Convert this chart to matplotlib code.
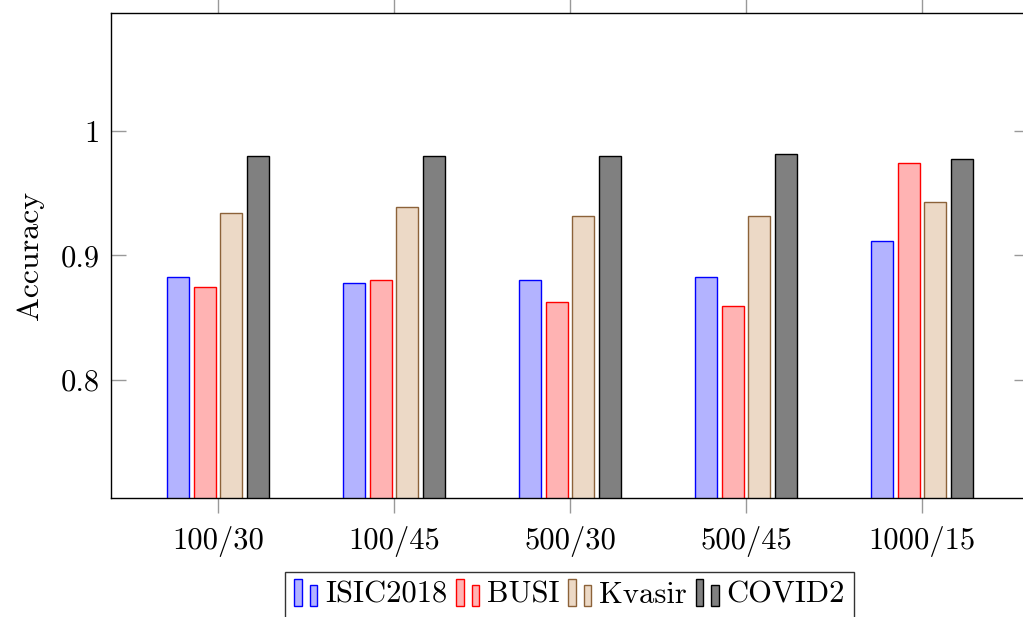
import numpy as np
import matplotlib
matplotlib.use("Agg")
import matplotlib.pyplot as plt
from matplotlib.patches import Rectangle
from matplotlib.legend_handler import HandlerBase

plt.rcParams['font.family'] = 'serif'
plt.rcParams['font.serif'] = ['cmr10']
plt.rcParams['mathtext.fontset'] = 'cm'
plt.rcParams['axes.formatter.use_mathtext'] = True

# data
groups = ["100/30", "100/45", "500/30", "500/45", "1000/15"]
datasets = ["ISIC2018", "BUSI", "Kvasir", "COVID2"]
isic = [0.883, 0.878, 0.880, 0.883, 0.912]
busi = [0.875, 0.880, 0.863, 0.859, 0.974]
kvasir = [0.934, 0.939, 0.932, 0.932, 0.943]
covid = [0.980, 0.980, 0.980, 0.982, 0.978]
ytick_vals = [0.8, 0.9, 1.0]
ytick_labels = ["0.8", "0.9", "1"]

values = [isic, busi, kvasir, covid]
fills = ["#b3b3ff", "#ffb3b3", "#ecd9c6", "#808080"]
edges = ["#0000ff", "#ff0000", "#8c6239", "#000000"]


class TwoBarHandler(HandlerBase):
    # pgfplots style ybar legend: two little bars
    def create_artists(self, legend, orig_handle, xdescent, ydescent,
                       width, height, fontsize, trans):
        fc = orig_handle.get_facecolor()
        ec = orig_handle.get_edgecolor()
        w = width * 0.32
        r1 = Rectangle((-xdescent, -ydescent - 0.15 * height), w, height * 1.25,
                       facecolor=fc, edgecolor=ec, lw=1.0, transform=trans)
        r2 = Rectangle((-xdescent + width - w, -ydescent - 0.15 * height), w, height * 0.95,
                       facecolor=fc, edgecolor=ec, lw=1.0, transform=trans)
        return [r1, r2]


fig = plt.figure(figsize=(10.23, 6.17), dpi=100)
ax = fig.add_axes([0.1085, 0.1929, 0.8974, 0.7860])

x = np.arange(len(groups))
step = 0.1517
width = 0.126
handles = []
for i, vals in enumerate(values):
    offs = (i - 1.5) * step
    bars = ax.bar(x + offs, vals, width, color=fills[i], edgecolor=edges[i],
                  linewidth=1.0, label=datasets[i], zorder=2)
    handles.append(bars.patches[0])

ax.set_xlim(-0.608, 4.608)
ax.set_ylim(0.705, 1.095)
ax.set_xticks(x)
ax.set_xticklabels(groups, fontsize=22)
ax.set_yticks(ytick_vals)
ax.set_yticklabels(ytick_labels, fontsize=22)
ax.tick_params(axis='y', direction='in', length=11, width=1.0, color='#999999',
               left=True, right=True, pad=8)
ax.tick_params(axis='x', direction='out', length=11, width=1.0, color='#999999',
               bottom=True, top=True, pad=9)
for sp in ax.spines.values():
    sp.set_linewidth(1.0)
ax.set_ylabel("Accuracy", fontsize=23, labelpad=12)

leg = fig.legend(handles, datasets, loc='upper center',
                 bbox_to_anchor=(0.5567, 0.073), ncol=4, fontsize=22,
                 handler_map={Rectangle: TwoBarHandler()},
                 frameon=True, fancybox=False, edgecolor='black',
                 handlelength=0.75, handletextpad=0.25, columnspacing=0.3,
                 borderpad=0.3, borderaxespad=0)
leg.get_frame().set_linewidth(1.0)

fig.savefig("out.png", dpi=100)
